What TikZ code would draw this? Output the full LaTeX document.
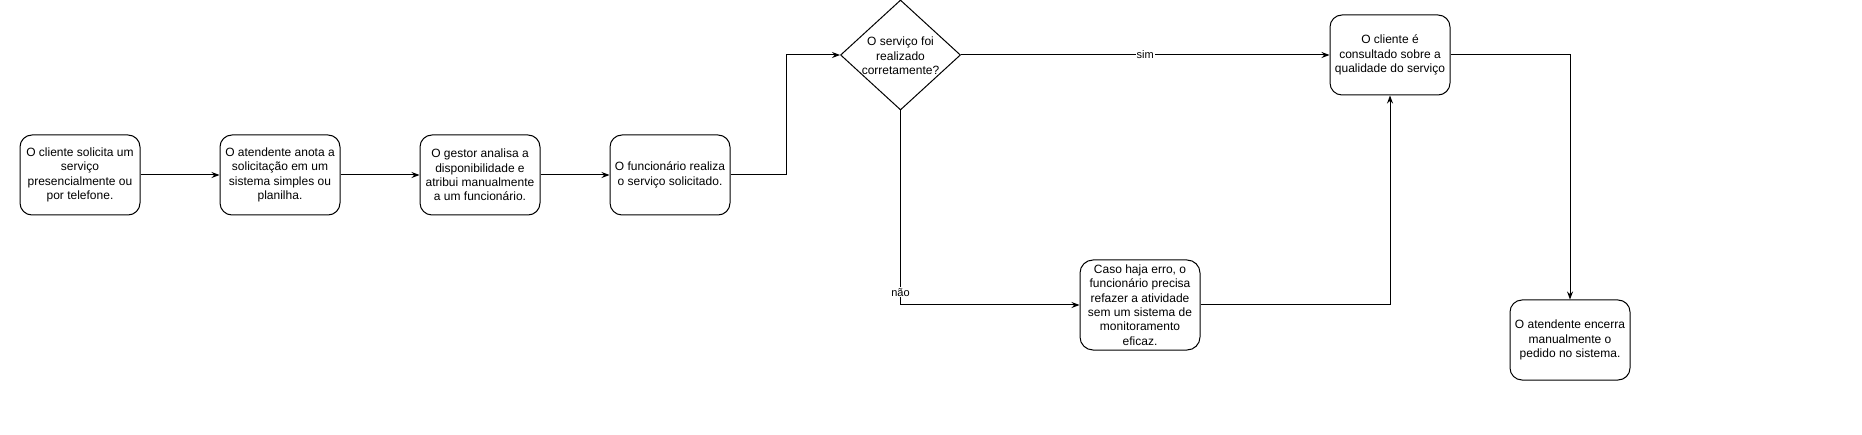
\documentclass[tikz,border=0pt]{standalone}
\usepackage{fontspec}
\setmainfont{Liberation Sans}
\usetikzlibrary{shapes.geometric,arrows.meta}
\begin{document}
\begin{tikzpicture}[x=1pt,y=-1pt,
  every node/.style={font=\fontsize{12}{14.4}\selectfont},
  procbox/.style={draw, line width=1pt, rounded corners=12pt, minimum width=120pt, minimum height=80pt, inner sep=0pt, align=center, fill=white},
  decbox/.style={draw, line width=1pt, diamond, minimum width=120pt, minimum height=110pt, inner sep=0pt, fill=white},
  conn/.style={line width=1pt, -{Stealth[length=8pt,width=6pt]}},
  elabel/.style={font=\fontsize{11}{13}\selectfont, fill=white, inner sep=1pt}
]
\fill[white] (0,0) rectangle (1862,435);
\useasboundingbox (0,0) rectangle (1862,435);

\node[procbox] (b1) at (80,175) {O cliente solicita um\\serviço\\presencialmente ou\\por telefone.};
\node[procbox] (b2) at (280,175) {O atendente anota a\\solicitação em um\\sistema simples ou\\planilha.};
\node[procbox] (b3) at (480,175) {O gestor analisa a\\disponibilidade e\\atribui manualmente\\a um funcionário.};
\node[procbox] (b4) at (670,175) {O funcionário realiza\\o serviço solicitado.};
\node[decbox] (dec) at (900.5,55) {};
\node[align=center, inner sep=0pt] (dectext) at (900.5,56) {O serviço foi\\realizado\\corretamente?};
\node[procbox, minimum height=90pt, rounded corners=13pt] (erro) at (1140,305) {Caso haja erro, o\\funcionário precisa\\refazer a atividade\\sem um sistema de\\monitoramento\\eficaz.};
\node[procbox] (cons) at (1390,55) {O cliente é\\consultado sobre a\\qualidade do serviço};
\node[procbox] (fim) at (1570,340) {O atendente encerra\\manualmente o\\pedido no sistema.};

\draw[conn] (b1.east) -- (b2.west);
\draw[conn] (b2.east) -- (b3.west);
\draw[conn] (b3.east) -- (b4.west);
\coordinate (k1) at (786,175);
\draw[conn] (b4.east) -- (k1) |- (dec.west);
\draw[conn] (dec.east) -- node[elabel, pos=0.5] (simlbl) {sim} (cons.west);
\draw[conn] (dec.south) |- node[elabel, pos=0.467] (naolbl) {não} (erro.west);
\draw[conn] (erro.east) -| (cons.south);
\draw[conn] (cons.east) -| (fim.north);
\end{tikzpicture}
\end{document}
